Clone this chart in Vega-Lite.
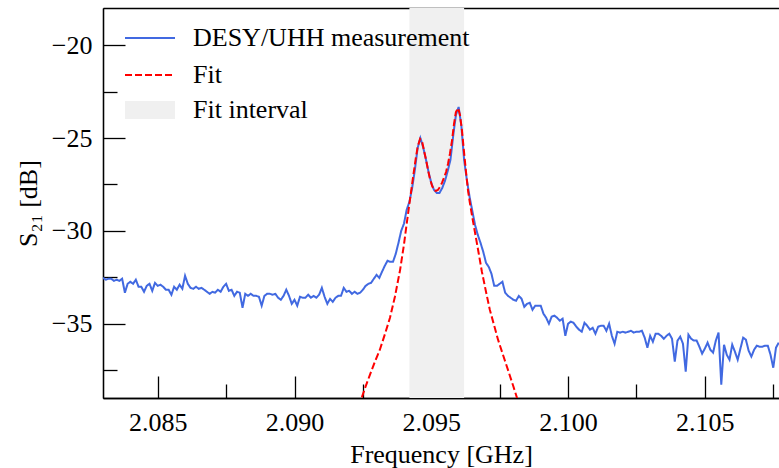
{
  "$schema": "https://vega.github.io/schema/vega-lite/v6.json",
  "width": 676,
  "height": 390,
  "autosize": {"type": "none"},
  "padding": {"left": 103, "top": 8, "right": 0, "bottom": 70},
  "config": {
    "view": {"stroke": null},
    "font": "Liberation Serif",
    "axis": {
      "grid": false,
      "domainColor": "black",
      "domainWidth": 1.3,
      "tickColor": "black",
      "tickWidth": 1.3,
      "labelFont": "Liberation Serif",
      "labelFontSize": 26,
      "labelColor": "black",
      "titleFont": "Liberation Serif",
      "titleFontSize": 26,
      "titleFontWeight": "normal",
      "titleColor": "black"
    },
    "legend": {
      "orient": "none",
      "title": null,
      "symbolSize": 400,
      "labelFontSize": 26,
      "labelFont": "Liberation Serif",
      "labelColor": "black",
      "labelLimit": 0,
      "labelOffset": 45,
      "rowPadding": 11,
      "padding": 0,
      "symbolStrokeWidth": 2,
      "symbolOpacity": 1
    }
  },
  "datasets": {
    "interval": [{"start": 2.0942, "end": 2.0962}],
    "meas": [
      {"f":2.0830,"s":-32.53},{"f":2.0831,"s":-32.63},{"f":2.0832,"s":-32.58},{"f":2.0833,"s":-32.58},{"f":2.0834,"s":-32.69},
      {"f":2.0835,"s":-32.63},{"f":2.0836,"s":-32.69},{"f":2.0837,"s":-32.58},{"f":2.0838,"s":-33.33},{"f":2.0839,"s":-32.85},
      {"f":2.0840,"s":-32.74},{"f":2.0841,"s":-32.85},{"f":2.0842,"s":-32.63},{"f":2.0843,"s":-33.01},{"f":2.0844,"s":-33.01},
      {"f":2.0845,"s":-33.28},{"f":2.0846,"s":-32.96},{"f":2.0847,"s":-32.85},{"f":2.0848,"s":-33.23},{"f":2.0849,"s":-32.80},
      {"f":2.0850,"s":-32.96},{"f":2.0851,"s":-32.90},{"f":2.0852,"s":-33.01},{"f":2.0853,"s":-33.17},{"f":2.0854,"s":-33.17},
      {"f":2.0855,"s":-33.44},{"f":2.0856,"s":-33.01},{"f":2.0857,"s":-33.17},{"f":2.0858,"s":-32.90},{"f":2.0859,"s":-33.12},
      {"f":2.0860,"s":-32.42},{"f":2.0861,"s":-32.85},{"f":2.0862,"s":-33.07},{"f":2.0863,"s":-33.12},{"f":2.0864,"s":-33.01},
      {"f":2.0865,"s":-33.12},{"f":2.0866,"s":-33.07},{"f":2.0867,"s":-33.17},{"f":2.0868,"s":-33.28},{"f":2.0869,"s":-33.39},
      {"f":2.0870,"s":-33.28},{"f":2.0871,"s":-33.33},{"f":2.0872,"s":-33.17},{"f":2.0873,"s":-33.28},{"f":2.0874,"s":-33.01},
      {"f":2.0875,"s":-32.85},{"f":2.0876,"s":-33.23},{"f":2.0877,"s":-33.17},{"f":2.0878,"s":-33.50},{"f":2.0879,"s":-33.28},
      {"f":2.0880,"s":-33.33},{"f":2.0881,"s":-34.14},{"f":2.0882,"s":-33.39},{"f":2.0883,"s":-33.50},{"f":2.0884,"s":-33.39},
      {"f":2.0885,"s":-33.50},{"f":2.0886,"s":-33.50},{"f":2.0887,"s":-33.55},{"f":2.0888,"s":-34.03},{"f":2.0889,"s":-33.50},
      {"f":2.0890,"s":-33.39},{"f":2.0891,"s":-33.39},{"f":2.0892,"s":-33.44},{"f":2.0893,"s":-33.39},{"f":2.0894,"s":-33.60},
      {"f":2.0895,"s":-33.71},{"f":2.0896,"s":-33.50},{"f":2.0897,"s":-33.17},{"f":2.0898,"s":-33.50},{"f":2.0899,"s":-33.93},
      {"f":2.0900,"s":-33.71},{"f":2.0901,"s":-34.03},{"f":2.0902,"s":-33.55},{"f":2.0903,"s":-33.60},{"f":2.0904,"s":-33.60},
      {"f":2.0905,"s":-33.44},{"f":2.0906,"s":-33.60},{"f":2.0907,"s":-33.50},{"f":2.0908,"s":-33.60},{"f":2.0909,"s":-33.44},
      {"f":2.0910,"s":-33.07},{"f":2.0911,"s":-33.55},{"f":2.0912,"s":-33.93},{"f":2.0913,"s":-33.66},{"f":2.0914,"s":-33.82},
      {"f":2.0915,"s":-33.60},{"f":2.0916,"s":-33.50},{"f":2.0917,"s":-33.50},{"f":2.0918,"s":-33.07},{"f":2.0919,"s":-33.28},
      {"f":2.0920,"s":-33.23},{"f":2.0921,"s":-33.39},{"f":2.0922,"s":-33.28},{"f":2.0923,"s":-33.39},{"f":2.0924,"s":-33.33},
      {"f":2.0925,"s":-33.17},{"f":2.0926,"s":-32.96},{"f":2.0927,"s":-32.85},{"f":2.0928,"s":-32.80},{"f":2.0929,"s":-32.58},
      {"f":2.0930,"s":-32.37},{"f":2.0931,"s":-32.53},{"f":2.0932,"s":-32.20},{"f":2.0933,"s":-31.88},{"f":2.0934,"s":-31.61},
      {"f":2.0935,"s":-31.67},{"f":2.0936,"s":-31.67},{"f":2.0937,"s":-31.24},{"f":2.0938,"s":-30.65},{"f":2.0939,"s":-30.00},
      {"f":2.0940,"s":-29.62},{"f":2.0941,"s":-28.87},{"f":2.0942,"s":-28.44},{"f":2.0943,"s":-27.69},{"f":2.0944,"s":-26.72},
      {"f":2.0945,"s":-25.54},{"f":2.0946,"s":-25.00},{"f":2.0947,"s":-25.48},{"f":2.0948,"s":-26.13},{"f":2.0949,"s":-26.83},
      {"f":2.0950,"s":-27.42},{"f":2.0951,"s":-27.80},{"f":2.0952,"s":-27.96},{"f":2.0953,"s":-27.96},{"f":2.0954,"s":-27.69},
      {"f":2.0955,"s":-27.31},{"f":2.0956,"s":-26.78},{"f":2.0957,"s":-26.18},{"f":2.0958,"s":-24.89},{"f":2.0959,"s":-23.76},
      {"f":2.0960,"s":-23.33},{"f":2.0961,"s":-24.36},{"f":2.0962,"s":-26.18},{"f":2.0963,"s":-27.26},{"f":2.0964,"s":-28.17},
      {"f":2.0965,"s":-28.93},{"f":2.0966,"s":-29.68},{"f":2.0967,"s":-30.22},{"f":2.0968,"s":-30.65},{"f":2.0969,"s":-31.13},
      {"f":2.0970,"s":-31.72},{"f":2.0971,"s":-31.94},{"f":2.0972,"s":-32.31},{"f":2.0973,"s":-32.96},{"f":2.0974,"s":-32.96},
      {"f":2.0975,"s":-32.85},{"f":2.0976,"s":-32.74},{"f":2.0977,"s":-33.33},{"f":2.0978,"s":-33.50},{"f":2.0979,"s":-33.60},
      {"f":2.0980,"s":-33.71},{"f":2.0981,"s":-33.76},{"f":2.0982,"s":-33.50},{"f":2.0983,"s":-33.66},{"f":2.0984,"s":-34.09},
      {"f":2.0985,"s":-33.93},{"f":2.0986,"s":-33.87},{"f":2.0987,"s":-34.25},{"f":2.0988,"s":-34.03},{"f":2.0989,"s":-34.03},
      {"f":2.0990,"s":-34.03},{"f":2.0991,"s":-34.46},{"f":2.0992,"s":-34.68},{"f":2.0993,"s":-35.00},{"f":2.0994,"s":-34.62},
      {"f":2.0995,"s":-34.57},{"f":2.0996,"s":-34.68},{"f":2.0997,"s":-34.84},{"f":2.0998,"s":-34.73},{"f":2.0999,"s":-35.65},
      {"f":2.1000,"s":-35.00},{"f":2.1001,"s":-34.89},{"f":2.1002,"s":-34.95},{"f":2.1003,"s":-35.16},{"f":2.1004,"s":-35.32},
      {"f":2.1005,"s":-35.43},{"f":2.1006,"s":-34.95},{"f":2.1007,"s":-35.11},{"f":2.1008,"s":-35.32},{"f":2.1009,"s":-35.22},
      {"f":2.1010,"s":-35.54},{"f":2.1011,"s":-35.16},{"f":2.1012,"s":-35.11},{"f":2.1013,"s":-35.11},{"f":2.1014,"s":-35.38},
      {"f":2.1015,"s":-35.00},{"f":2.1016,"s":-35.65},{"f":2.1017,"s":-36.08},{"f":2.1018,"s":-35.43},{"f":2.1019,"s":-35.48},
      {"f":2.1020,"s":-35.43},{"f":2.1021,"s":-35.48},{"f":2.1022,"s":-35.43},{"f":2.1023,"s":-35.38},{"f":2.1024,"s":-35.48},
      {"f":2.1025,"s":-35.43},{"f":2.1026,"s":-35.43},{"f":2.1027,"s":-35.38},{"f":2.1028,"s":-35.75},{"f":2.1029,"s":-36.29},
      {"f":2.1030,"s":-35.65},{"f":2.1031,"s":-35.97},{"f":2.1032,"s":-35.54},{"f":2.1033,"s":-35.54},{"f":2.1034,"s":-35.65},
      {"f":2.1035,"s":-35.81},{"f":2.1036,"s":-35.65},{"f":2.1037,"s":-35.54},{"f":2.1038,"s":-35.81},{"f":2.1039,"s":-37.04},
      {"f":2.1040,"s":-35.91},{"f":2.1041,"s":-35.70},{"f":2.1042,"s":-36.08},{"f":2.1043,"s":-37.58},{"f":2.1044,"s":-35.59},
      {"f":2.1045,"s":-35.81},{"f":2.1046,"s":-35.91},{"f":2.1047,"s":-35.91},{"f":2.1048,"s":-36.24},{"f":2.1049,"s":-36.61},
      {"f":2.1050,"s":-36.34},{"f":2.1051,"s":-36.02},{"f":2.1052,"s":-36.40},{"f":2.1053,"s":-36.56},{"f":2.1054,"s":-35.91},
      {"f":2.1055,"s":-35.48},{"f":2.1056,"s":-38.28},{"f":2.1057,"s":-36.13},{"f":2.1058,"s":-36.67},{"f":2.1059,"s":-36.94},
      {"f":2.1060,"s":-36.13},{"f":2.1061,"s":-36.51},{"f":2.1062,"s":-36.94},{"f":2.1063,"s":-36.34},{"f":2.1064,"s":-35.75},
      {"f":2.1065,"s":-35.86},{"f":2.1066,"s":-36.45},{"f":2.1067,"s":-36.77},{"f":2.1068,"s":-36.40},{"f":2.1069,"s":-36.18},
      {"f":2.1070,"s":-36.24},{"f":2.1071,"s":-36.24},{"f":2.1072,"s":-36.18},{"f":2.1073,"s":-36.18},{"f":2.1074,"s":-36.67},
      {"f":2.1075,"s":-37.37},{"f":2.1076,"s":-36.29},{"f":2.1077,"s":-36.02}
    ],
    "fit": [
      {"f":2.09232,"s":-39.46},{"f":2.09247,"s":-38.93},{"f":2.09261,"s":-38.33},{"f":2.09276,"s":-37.74},{"f":2.09294,"s":-37.04},
      {"f":2.09312,"s":-36.40},{"f":2.09331,"s":-35.54},{"f":2.09349,"s":-34.68},{"f":2.09367,"s":-33.55},{"f":2.09386,"s":-32.10},
      {"f":2.09400,"s":-30.75},{"f":2.09411,"s":-29.52},{"f":2.09422,"s":-28.33},{"f":2.09433,"s":-27.15},{"f":2.09444,"s":-26.02},
      {"f":2.09451,"s":-25.43},{"f":2.09459,"s":-25.05},{"f":2.09466,"s":-25.16},{"f":2.09473,"s":-25.65},{"f":2.09481,"s":-26.18},
      {"f":2.09488,"s":-26.72},{"f":2.09495,"s":-27.20},{"f":2.09503,"s":-27.58},{"f":2.09510,"s":-27.80},{"f":2.09517,"s":-27.85},
      {"f":2.09524,"s":-27.80},{"f":2.09532,"s":-27.63},{"f":2.09539,"s":-27.42},{"f":2.09546,"s":-27.15},{"f":2.09554,"s":-26.83},
      {"f":2.09561,"s":-26.40},{"f":2.09568,"s":-25.86},{"f":2.09576,"s":-25.11},{"f":2.09583,"s":-24.25},{"f":2.09590,"s":-23.60},
      {"f":2.09598,"s":-23.39},{"f":2.09605,"s":-23.76},{"f":2.09612,"s":-24.57},{"f":2.09619,"s":-25.65},{"f":2.09627,"s":-26.83},
      {"f":2.09634,"s":-27.80},{"f":2.09641,"s":-28.49},{"f":2.09649,"s":-29.19},{"f":2.09660,"s":-30.11},{"f":2.09671,"s":-31.02},
      {"f":2.09685,"s":-32.20},{"f":2.09700,"s":-33.28},{"f":2.09714,"s":-34.25},{"f":2.09729,"s":-35.05},{"f":2.09744,"s":-35.86},
      {"f":2.09762,"s":-36.67},{"f":2.09780,"s":-37.47},{"f":2.09799,"s":-38.33},{"f":2.09813,"s":-38.98},{"f":2.09828,"s":-39.57}
    ]
  },
  "layer": [
    {
      "data": {"name": "interval"},
      "mark": {"type": "rect", "clip": true, "opacity": 1},
      "encoding": {
        "x": {
          "field": "start", "type": "quantitative",
          "scale": {"domain": [2.083, 2.10771], "nice": false, "zero": false},
          "axis": {"orient": "bottom", "values": [2.085, 2.09, 2.095, 2.1, 2.105], "format": ".3f", "tickSize": -22, "labelPadding": 33, "title": "Frequency [GHz]", "titlePadding": 6}
        },
        "x2": {"field": "end"},
        "fill": {
          "datum": "Fit interval", "type": "nominal",
          "scale": {"domain": ["Fit interval"], "range": ["#f0f0f0"]},
          "legend": {
            "legendX": 19, "legendY": 89,
            "symbolType": "M-1,-0.9L4,-0.9L4,0.9L-1,0.9Z",
            "symbolStrokeWidth": 0
          }
        }
      }
    },
    {
      "data": {"name": "meas"},
      "mark": {"type": "line", "clip": true, "strokeWidth": 2},
      "encoding": {
        "x": {
          "field": "f", "type": "quantitative",
          "scale": {"domain": [2.083, 2.10771], "nice": false, "zero": false},
          "axis": {"orient": "bottom", "values": [2.0875, 2.0925, 2.0975, 2.1025, 2.1075], "tickSize": -14, "labels": false, "title": null}
        },
        "y": {
          "field": "s", "type": "quantitative",
          "scale": {"domain": [-39, -18], "nice": false, "zero": false},
          "axis": {"orient": "left", "values": [-35, -30, -25, -20], "tickSize": -22, "labelPadding": 33, "title": "S₂₁ [dB]", "titlePadding": 10}
        },
        "color": {
          "datum": "DESY/UHH measurement", "type": "nominal",
          "scale": {"domain": ["DESY/UHH measurement", "Fit"], "range": ["#4169e1", "#ff0000"]},
          "legend": {"legendX": 19, "legendY": 17, "symbolType": "M-1,0L4,0"}
        },
        "strokeDash": {
          "datum": "DESY/UHH measurement", "type": "nominal",
          "scale": {"domain": ["DESY/UHH measurement", "Fit"], "range": [[1, 0], [7, 3]]},
          "legend": {"legendX": 19, "legendY": 17, "symbolType": "M-1,0L4,0"}
        }
      }
    },
    {
      "data": {"name": "fit"},
      "mark": {"type": "line", "clip": true, "strokeWidth": 2},
      "encoding": {
        "x": {
          "field": "f", "type": "quantitative",
          "scale": {"domain": [2.083, 2.10771], "nice": false, "zero": false},
          "axis": {"orient": "top", "ticks": false, "labels": false, "title": null, "domain": true}
        },
        "y": {
          "field": "s", "type": "quantitative",
          "scale": {"domain": [-39, -18], "nice": false, "zero": false},
          "axis": {"orient": "left", "values": [-37.5, -32.5, -27.5, -22.5], "tickSize": -14, "labels": false, "title": null}
        },
        "color": {"datum": "Fit", "type": "nominal"},
        "strokeDash": {"datum": "Fit", "type": "nominal"}
      }
    }
  ],
  "resolve": {"axis": {"x": "independent", "y": "independent"}}
}
